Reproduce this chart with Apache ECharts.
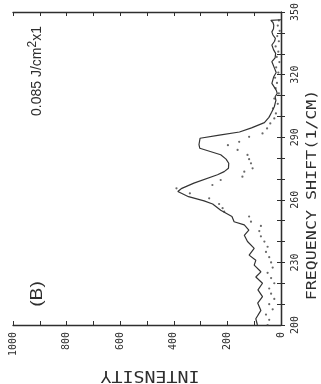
<!DOCTYPE html>
<html><head><meta charset="utf-8">
<script src="https://cdn.jsdelivr.net/npm/echarts@6/dist/echarts.min.js"></script>
<style>html,body{margin:0;padding:0;background:#fff;}#c{width:321px;height:384px;}</style>
</head><body><div id="c"></div>
<script>
// Frequency shift (1/cm) and intensity of the solid trace
const freqSolid = [200,203,207,210.5,213.6,216.8,220,223,225.5,228.7,231,233.5,236.7,240,243,245.5,248,249.5,252,255,258,259.5,261.5,264,265.5,268,272,273.5,275.1,277.5,279.5,281.6,284.7,286.5,289.5,291,292.5,294.5,297,299.5,302,304.6,307.7,309.4,311,312.6,315.8,319,321,323,326.2,328,330.2,332,334.2,336,337.4,339,340.5,342,343.7,345,346,346.3];
const intenSolid = [88,94,75,87,69,86,69,94,75,100,94,119,100,125,137,120,137,175,183,225,255,287,345,385,370,325,237,212,196,195,205,225,303,306,302,230,155,110,62,45,35,25,19,22,14,18,34,27,18,24,34,22,20,28,34,24,21,30,34,28,27,30,38,0];
// Dotted trace
const freqDots = [200,202.5,205,207.5,210,212.5,215,217.5,220,222.5,225,227.5,230,232.5,235,237.5,240,242.5,245,247.5,249.5,252,254.3,256,258,260.7,263.1,265.5,267.1,269.5,271.1,273.5,275.1,277.5,279.5,281.5,283.9,286.2,287.8,290.2,291.8,294.2,296.6,299,301.4,303.8,306,308.5,311,313.5,316,318.5,321,323.5,326,328.5,331,333.5,336,338.5,341,343.5,346];
const intenDots = [50,44,56,31,44,25,37,44,25,37,50,31,37,44,56,50,62,75,81,75,112,119,212,218,231,268,340,390,256,225,144,137,106,112,119,125,162,198,156,119,69,52,40,25,19,30,12,25,8,20,15,22,10,18,6,16,10,20,8,14,5,12,8];
const freqLabelStep = 30;
const intenLabelStep = 200;
const freqTitle = 'FREQUENCY SHIFT(1/CM)';
const intenTitle = 'INTENSITY';
const sampleLabel = '(B)';

const ink = '#2e2e2e';
const solidData = freqSolid.map((f,i)=>[intenSolid[i], f]);
const dotData = freqDots.map((f,i)=>[intenDots[i], f]);
const chart = echarts.init(document.getElementById('c'), null, {renderer:'canvas'});
const axLine = {show:true, lineStyle:{color:ink, width:1.3}};
const tick = {show:true, inside:true, length:4, lineStyle:{color:ink, width:1}};
const lab = {fontFamily:'DejaVu Sans Mono', fontSize:10, color:ink};
chart.setOption({
  animation:false,
  backgroundColor:'#fff',
  grid:{left:13, right:40, top:12, bottom:59},
  xAxis:[
    {type:'value', position:'bottom', min:0, max:1000, interval:100, inverse:true,
     axisLine:axLine, axisTick:tick, splitLine:{show:false},
     axisLabel:Object.assign({rotate:90, margin:7, showMinLabel:true, showMaxLabel:true,
       formatter:v=> v%intenLabelStep===0 ? String(v) : ''}, lab)},
    {type:'value', position:'top', min:0, max:1000, interval:100, inverse:true,
     axisLine:axLine, axisTick:tick, splitLine:{show:false}, axisLabel:{show:false}}
  ],
  yAxis:[
    {type:'value', position:'right', min:200, max:350, interval:10,
     axisLine:axLine, axisTick:tick, splitLine:{show:false},
     axisLabel:Object.assign({rotate:90, margin:9, showMinLabel:true, showMaxLabel:true,
       formatter:v=> (v-200)%freqLabelStep===0 ? String(v) : ''}, lab)},
    {type:'value', position:'left', min:200, max:350, interval:10,
     axisLine:axLine, axisTick:tick, splitLine:{show:false}, axisLabel:{show:false}}
  ],
  series:[
    {type:'line', data:solidData, xAxisIndex:0, yAxisIndex:0, showSymbol:false, smooth:false,
     lineStyle:{color:'#333', width:1.2}},
    {type:'scatter', data:dotData, xAxisIndex:0, yAxisIndex:0, symbolSize:2.2,
     itemStyle:{color:'#444'}}
  ],
  graphic:[
    {type:'text', x:312, y:195, rotation:Math.PI/2, scaleX:1.19,
     style:{text:freqTitle, fontFamily:'DejaVu Sans Mono', fontSize:14, fill:ink, align:'center', verticalAlign:'middle'}},
    {type:'text', x:150, y:375, rotation:Math.PI, scaleX:1.22,
     style:{text:intenTitle, fontFamily:'DejaVu Sans Mono', fontSize:15, fill:ink, align:'center', verticalAlign:'middle'}},
    {type:'text', x:37, y:71, rotation:Math.PI/2,
     style:{text:'{a|0.085 J/cm}{s|2}{a|x1}', align:'center', verticalAlign:'middle',
       rich:{a:{fontFamily:'Liberation Sans', fontSize:14, fill:ink},
             s:{fontFamily:'Liberation Sans', fontSize:12, fill:ink, padding:[0,0,9,0]}}}},
    {type:'text', x:38, y:294, rotation:Math.PI/2, scaleX:1.2,
     style:{text:sampleLabel, fontFamily:'Liberation Sans', fontSize:16, fill:ink, align:'center', verticalAlign:'middle'}}
  ]
});
</script>
</body></html>
